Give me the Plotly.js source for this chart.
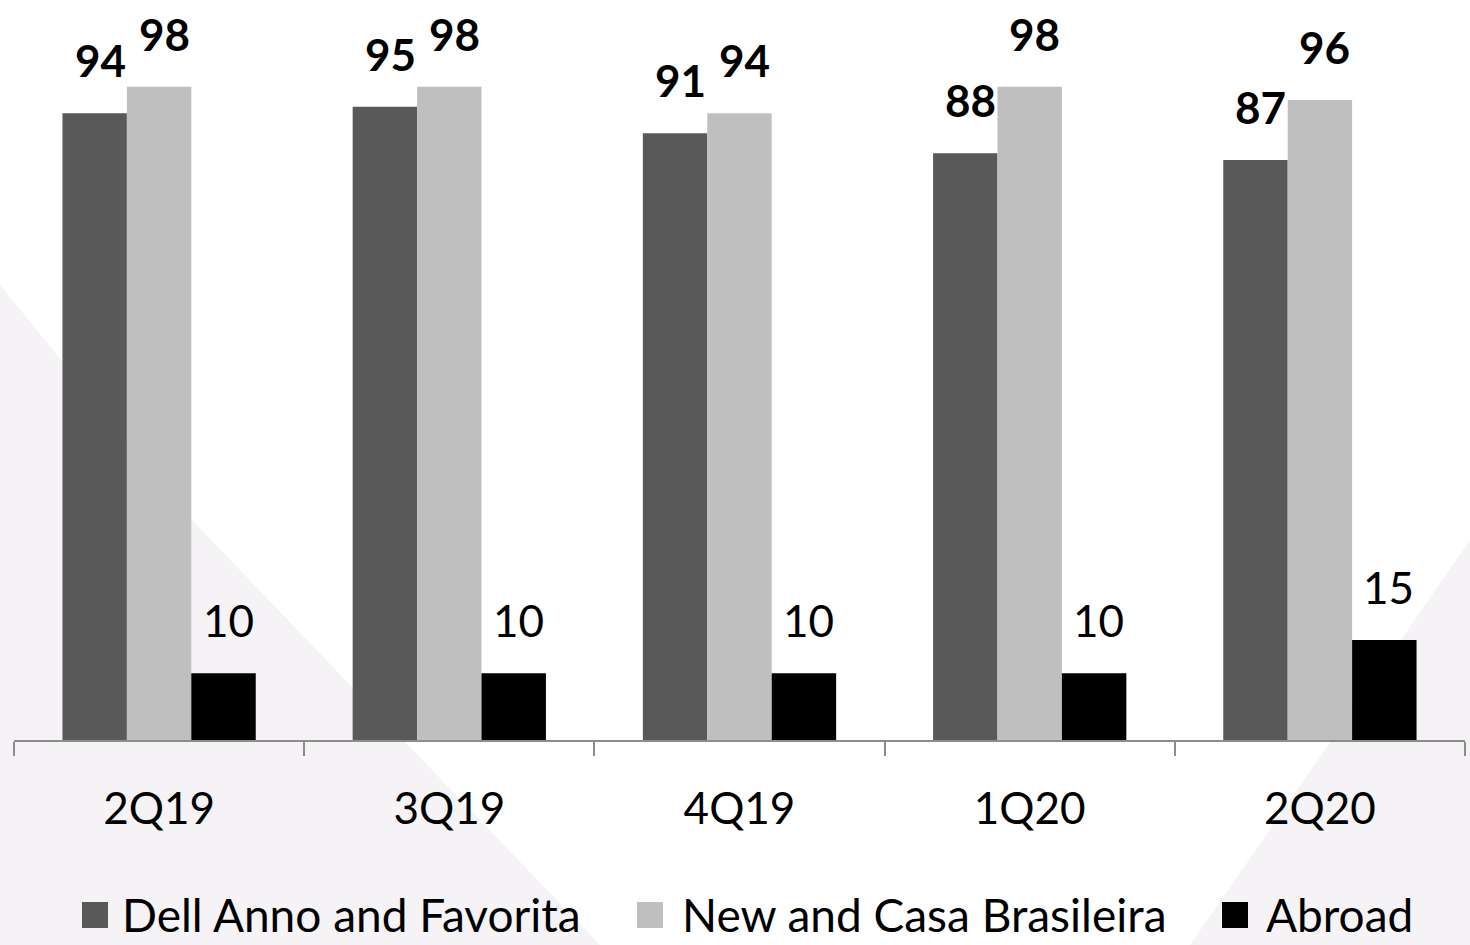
<!DOCTYPE html>
<html>
<head>
<meta charset="utf-8">
<script src="https://cdn.plot.ly/plotly-3.0.1.min.js"></script>
<style>html,body{margin:0;padding:0;background:#fff;}#chart{width:1470px;height:945px;}</style>
</head>
<body>
<div id="chart"></div>
<script>
const categories = ['2Q19', '3Q19', '4Q19', '1Q20', '2Q20'];
const dellAnnoFavorita = [94, 95, 91, 88, 87];
const newCasaBrasileira = [98, 98, 94, 98, 96];
const abroad = [10, 10, 10, 10, 15];
const seriesNames = ['Dell Anno and Favorita', 'New and Casa Brasileira', 'Abroad'];

const FONT = 'Lato, "Open Sans", sans-serif';
const series = [dellAnnoFavorita, newCasaBrasileira, abroad];
const colors = ['#595959', '#bfbfbf', '#000000'];
const labelWeights = ['bold', 'bold', 'normal'];
const labelXShift = [-59, 5, 69];

const traces = series.map((vals, i) => ({
  type: 'bar',
  name: seriesNames[i],
  x: categories,
  y: vals,
  marker: {color: colors[i], line: {width: 0}},
  hoverinfo: 'skip',
  showlegend: false
}));

const annotations = [];
series.forEach((vals, i) => {
  vals.forEach((v, j) => {
    annotations.push({
      x: categories[j], y: v, xref: 'x', yref: 'y',
      text: String(v), showarrow: false,
      xanchor: 'center', yanchor: 'middle',
      xshift: labelXShift[i], yshift: 53,
      font: {family: FONT, size: 44, color: '#000', weight: labelWeights[i]}
    });
  });
});

// pixel -> paper helpers for decoration and legend placement
const L = 14, W = 1451, B = 740;
const px = x => (x - L) / W;
const py = y => (B - y) / B;
const poly = pts => 'M' + pts.map(p => px(p[0]).toFixed(4) + ',' + py(p[1]).toFixed(4)).join('L') + 'Z';
const shapes = [
  {type: 'path', xref: 'paper', yref: 'paper', layer: 'below', line: {width: 0},
   fillcolor: '#f5f3f5', path: poly([[0, 285], [188, 516], [600, 945], [0, 945]])},
  {type: 'path', xref: 'paper', yref: 'paper', layer: 'below', line: {width: 0},
   fillcolor: '#f5f3f5', path: poly([[1470, 540], [1190, 945], [1470, 945]])}
];

// legend (drawn as swatches + text)
const legendSwatchX = [82, 637, 1222];
const legendTextX = [120, 680, 1264];
const legendY = 915, sw = 26;
seriesNames.forEach((name, i) => {
  shapes.push({type: 'rect', xref: 'paper', yref: 'paper', layer: 'above', line: {width: 0},
    fillcolor: colors[i],
    x0: px(legendSwatchX[i]), x1: px(legendSwatchX[i] + sw),
    y0: py(legendY + sw / 2), y1: py(legendY - sw / 2)});
  annotations.push({xref: 'paper', yref: 'paper', x: px(legendTextX[i]), y: py(legendY),
    xanchor: 'left', yanchor: 'middle', showarrow: false, text: name,
    font: {family: FONT, size: 46, color: '#000'}});
});

const layout = {
  width: 1470, height: 945,
  margin: {l: 14, r: 5, t: 0, b: 205},
  paper_bgcolor: 'rgba(0,0,0,0)',
  plot_bgcolor: 'rgba(0,0,0,0)',
  barmode: 'group',
  bargap: 0.334,
  bargroupgap: 0,
  showlegend: false,
  xaxis: {
    type: 'category',
    showline: true, linecolor: '#8c8c8c', linewidth: 2,
    ticks: 'outside', tickson: 'boundaries', ticklen: 14, tickwidth: 2, tickcolor: '#8c8c8c',
    tickfont: {family: FONT, size: 44, color: '#000'},
    ticklabelstandoff: 29,
    showgrid: false, zeroline: false, fixedrange: true
  },
  yaxis: {range: [0, 111], visible: false, showgrid: false, zeroline: false, fixedrange: true},
  annotations: annotations,
  shapes: shapes
};

Plotly.newPlot('chart', traces, layout, {displayModeBar: false, staticPlot: true});
</script>
</body>
</html>
